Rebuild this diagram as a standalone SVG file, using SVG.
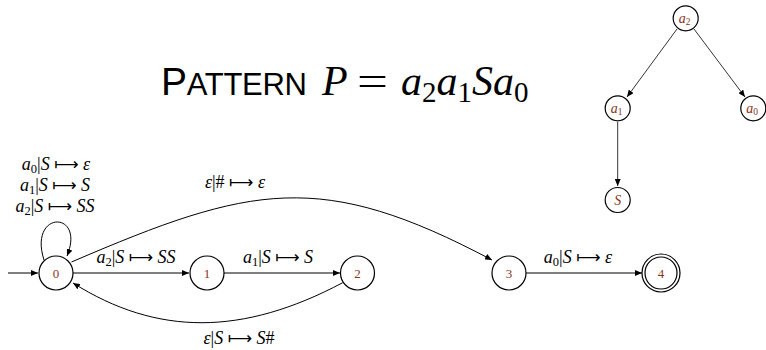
<svg xmlns="http://www.w3.org/2000/svg" width="766" height="350" viewBox="0 0 766 350">
<style>
.st{fill:#fff;stroke:#000;stroke-width:1.2}
.nl{font-family:"Liberation Serif","DejaVu Serif",serif;font-size:13px;fill:#8a3422;text-anchor:middle}
.tl{font-family:"Liberation Serif","DejaVu Serif",serif;font-style:italic;font-size:14px;fill:#8a3422;text-anchor:middle}
.e{fill:none;stroke:#000;stroke-width:1}
.te{fill:none;stroke:#000;stroke-width:0.8}
.lb{font-family:"Liberation Serif","DejaVu Serif",serif;font-size:18px;fill:#000;text-anchor:middle}
.i{font-style:italic}
.s{font-size:12.5px;font-style:normal}
.m{font-family:"DejaVu Sans",sans-serif;font-size:17px}
</style>
<defs>
<marker id="ar" markerWidth="8" markerHeight="6" refX="7" refY="3" orient="auto" markerUnits="userSpaceOnUse">
<path d="M0,0 L7,3 L0,6 Z" fill="#000"/>
</marker>
</defs>
<g id="title">
<text x="161" y="95" font-family="Liberation Sans, Arial, sans-serif" font-size="39" fill="#000" textLength="146" lengthAdjust="spacing">P<tspan font-size="31">ATTERN</tspan></text>
<text x="322" y="95" font-family="Liberation Serif, DejaVu Serif, serif" font-size="42" fill="#000" font-style="italic">P</text>
<text x="357" y="95" font-family="Liberation Serif, DejaVu Serif, serif" font-size="42" fill="#000" textLength="31" lengthAdjust="spacingAndGlyphs">=</text>
<text x="401" y="95" font-family="Liberation Serif, DejaVu Serif, serif" font-size="42" fill="#000"><tspan font-style="italic">a</tspan><tspan font-size="29" dy="7">2</tspan><tspan font-style="italic" dy="-7">a</tspan><tspan font-size="29" dy="7">1</tspan><tspan font-style="italic" dy="-7">Sa</tspan><tspan font-size="29" dy="7">0</tspan></text>
</g>
<g id="connectors">
<line class="e" x1="8" y1="273" x2="38" y2="273" marker-end="url(#ar)"/>
<path class="e" d="M44,260 C28,210 86,210 67,256" marker-end="url(#ar)"/>
<line class="e" x1="73" y1="273" x2="189" y2="273" marker-end="url(#ar)"/>
<line class="e" x1="224" y1="273" x2="340" y2="273" marker-end="url(#ar)"/>
<path class="e" d="M71.5,262 C251.5,184.6 321,169.4 492,260" marker-end="url(#ar)"/>
<path class="e" d="M342.7,282.7 C242.7,335.7 157.6,336.3 73,283" marker-end="url(#ar)"/>
<line class="e" x1="526" y1="273" x2="642" y2="273" marker-end="url(#ar)"/>
<line class="te" x1="677" y1="29" x2="627" y2="97" marker-end="url(#ar)"/>
<line class="te" x1="694" y1="29" x2="745" y2="97" marker-end="url(#ar)"/>
<line class="te" x1="617.7" y1="122" x2="617.7" y2="186" marker-end="url(#ar)"/>
</g>
<g id="labels">
<text class="lb" x="56" y="170"><tspan class="i">a</tspan><tspan class="s" dy="3">0</tspan><tspan dy="-3">|</tspan><tspan class="i">S</tspan> <tspan class="m">⟼</tspan> <tspan class="i">ε</tspan></text>
<text class="lb" x="55" y="191"><tspan class="i">a</tspan><tspan class="s" dy="3">1</tspan><tspan dy="-3">|</tspan><tspan class="i">S</tspan> <tspan class="m">⟼</tspan> <tspan class="i">S</tspan></text>
<text class="lb" x="55" y="212"><tspan class="i">a</tspan><tspan class="s" dy="3">2</tspan><tspan dy="-3">|</tspan><tspan class="i">S</tspan> <tspan class="m">⟼</tspan> <tspan class="i">SS</tspan></text>
<text class="lb" x="136" y="263"><tspan class="i">a</tspan><tspan class="s" dy="3">2</tspan><tspan dy="-3">|</tspan><tspan class="i">S</tspan> <tspan class="m">⟼</tspan> <tspan class="i">SS</tspan></text>
<text class="lb" x="278" y="263"><tspan class="i">a</tspan><tspan class="s" dy="3">1</tspan><tspan dy="-3">|</tspan><tspan class="i">S</tspan> <tspan class="m">⟼</tspan> <tspan class="i">S</tspan></text>
<text class="lb" x="235" y="188"><tspan class="i">ε</tspan>|# <tspan class="m">⟼</tspan> <tspan class="i">ε</tspan></text>
<text class="lb" x="239" y="344"><tspan class="i">ε</tspan>|<tspan class="i">S</tspan> <tspan class="m">⟼</tspan> <tspan class="i">S</tspan>#</text>
<text class="lb" x="578" y="263"><tspan class="i">a</tspan><tspan class="s" dy="3">0</tspan><tspan dy="-3">|</tspan><tspan class="i">S</tspan> <tspan class="m">⟼</tspan> <tspan class="i">ε</tspan></text>
</g>
<g id="q0"><circle class="st" cx="56" cy="273" r="17"/><text class="nl" x="56" y="277.5">0</text></g>
<g id="q1"><circle class="st" cx="207" cy="273" r="17"/><text class="nl" x="207" y="277.5">1</text></g>
<g id="q2"><circle class="st" cx="357.5" cy="273" r="17"/><text class="nl" x="357.5" y="277.5">2</text></g>
<g id="q3"><circle class="st" cx="509" cy="273" r="17"/><text class="nl" x="509" y="277.5">3</text></g>
<g id="q4"><circle class="st" cx="661" cy="273" r="19"/><circle fill="none" stroke="#000" stroke-width="1.2" cx="661" cy="273" r="16"/><text class="nl" x="661" y="277.5">4</text></g>
<g id="t_a2"><circle class="st" cx="685.7" cy="18.3" r="12.5"/><text class="tl" x="684.5" y="22.5">a<tspan font-size="9.5" font-style="normal" dy="2">2</tspan></text></g>
<g id="t_a1"><circle class="st" cx="617.7" cy="108.3" r="12.5"/><text class="tl" x="616.5" y="112.5">a<tspan font-size="9.5" font-style="normal" dy="2">1</tspan></text></g>
<g id="t_a0"><circle class="st" cx="753.3" cy="108.3" r="12.5"/><text class="tl" x="752" y="112.5">a<tspan font-size="9.5" font-style="normal" dy="2">0</tspan></text></g>
<g id="t_S"><circle class="st" cx="617.7" cy="200" r="12.5"/><text class="tl" x="617.7" y="205">S</text></g>
</svg>
